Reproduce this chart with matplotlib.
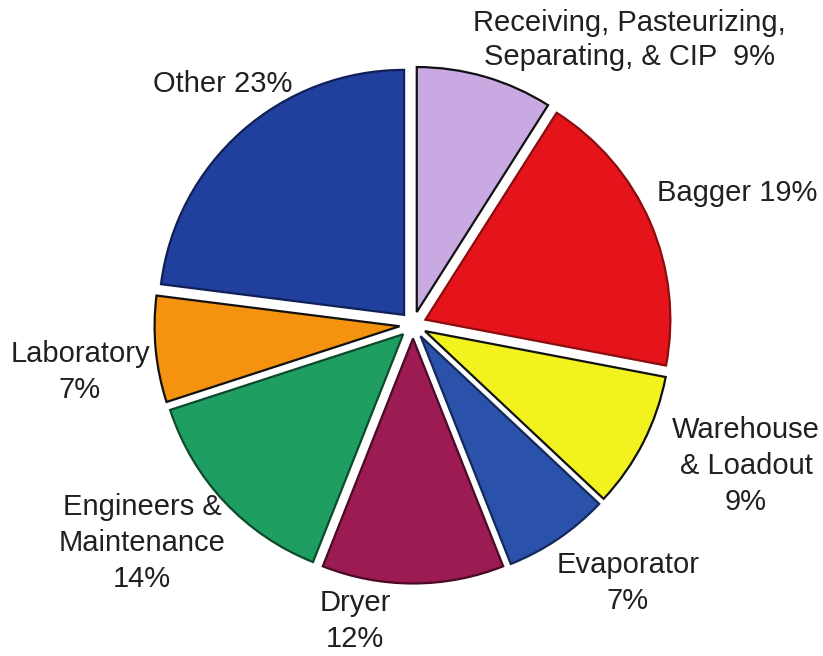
import matplotlib
matplotlib.use("Agg")
import matplotlib.pyplot as plt

plt.rcParams['font.family'] = ['Liberation Sans', 'DejaVu Sans']

# slice data, clockwise from 12 o'clock
labels = ["Receiving, Pasteurizing,\nSeparating, & CIP  9%", "Bagger 19%",
          "Warehouse\n& Loadout\n9%", "Evaporator\n7%", "Dryer\n12%",
          "Engineers &\nMaintenance\n14%", "Laboratory\n7%", "Other 23%"]
shares = [9, 19, 9, 7, 12, 14, 7, 23]

colors = ["#c9a9e2", "#e5141b", "#f2f21e", "#2b52aa", "#9b1b52",
          "#1f9e62", "#f5920f", "#21409e"]
edges = ["#111111", "#8a0d10", "#111111", "#14285a", "#4a0a26",
         "#0d4a2c", "#111111", "#101f55"]

# label placement in pixels: centre x, last-line baseline y (from top)
label_px = [(629, 65), (737, 201), (746, 510), (628, 609), (355, 647),
            (142, 587), (80, 398), (223, 92)]
spacing = [1.28, 1.35, 1.36, 1.36, 1.36, 1.36, 1.36, 1.35]

W, H = 823, 656
R = 245.0
cx, cy = 413, 325

fig = plt.figure(figsize=(W / 100, H / 100), dpi=100)
ax = fig.add_axes([0, 0, 1, 1])
wedges, _ = ax.pie(shares, colors=colors, startangle=90, counterclock=False,
                   explode=[0.055] * len(shares), radius=1.0,
                   wedgeprops=dict(linewidth=1.6))
for w, ec in zip(wedges, edges):
    w.set_edgecolor(ec)

ax.set_xlim(-cx / R, (W - cx) / R)
ax.set_ylim(-(H - cy) / R, cy / R)
ax.set_aspect('auto')
ax.axis('off')

for text, (px, py), ls in zip(labels, label_px, spacing):
    fig.text(px / W, 1 - py / H, text, ha='center', va='baseline',
             multialignment='center', fontsize=21, color='#231f20',
             linespacing=ls)

fig.savefig("out.png", dpi=100, facecolor='white')
